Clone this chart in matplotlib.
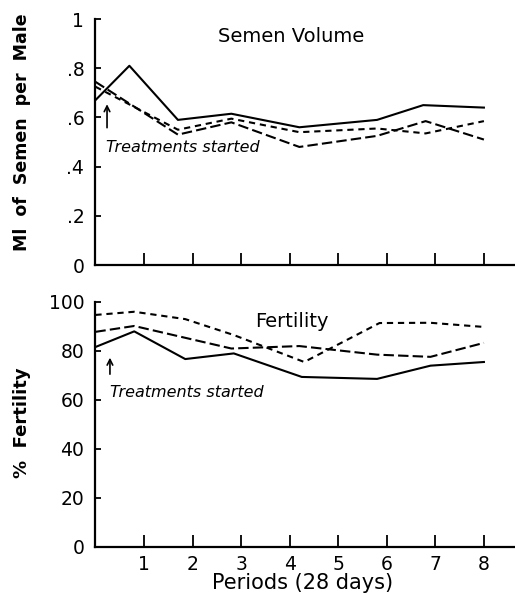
import matplotlib.pyplot as plt

# Semen volume (ml per male)
vol_solid_x = [0, 0.7, 1.7, 2.8, 4.2, 5.8, 6.75, 8]
vol_solid = [0.67, 0.81, 0.59, 0.615, 0.56, 0.59, 0.65, 0.64]
vol_long_x = [0, 1.7, 2.8, 4.2, 5.8, 6.8, 8]
vol_long = [0.745, 0.53, 0.58, 0.48, 0.525, 0.585, 0.51]
vol_short_x = [0, 1.7, 2.8, 4.2, 5.8, 6.8, 8]
vol_short = [0.725, 0.55, 0.595, 0.54, 0.555, 0.535, 0.585]

# Fertility (%)
fert_solid_x = [0, 0.8, 1.85, 2.85, 4.25, 5.8, 6.9, 8]
fert_solid = [81.6, 88, 76.7, 79, 69.4, 68.6, 74, 75.5]
fert_long_x = [0, 0.8, 2.8, 4.2, 5.8, 6.9, 8]
fert_long = [87.8, 90.2, 81, 82, 78.5, 77.6, 83.3]
fert_short_x = [0, 0.8, 1.85, 2.85, 4.3, 5.85, 6.9, 8]
fert_short = [94.7, 96, 93, 86.5, 75.5, 91.4, 91.5, 89.8]

periods = [1, 2, 3, 4, 5, 6, 7, 8]
vol_ticks = [0, 0.2, 0.4, 0.6, 0.8, 1.0]
vol_labels = ['0', '.2', '.4', '.6', '.8', '1']
fert_ticks = [0, 20, 40, 60, 80, 100]

fig = plt.figure(figsize=(5.15, 5.95), dpi=100)
ax1 = fig.add_axes([0.1852, 0.5546, 0.8148, 0.4134])
ax2 = fig.add_axes([0.1852, 0.0807, 0.8148, 0.4118])

lw = 1.5
long_dash = (5, 2)
short_dash = (3, 2.3)

ax1.plot(vol_solid_x, vol_solid, color='black', lw=lw)
ax1.plot(vol_long_x, vol_long, color='black', lw=lw, dashes=long_dash)
ax1.plot(vol_short_x, vol_short, color='black', lw=lw, dashes=short_dash)

ax2.plot(fert_solid_x, fert_solid, color='black', lw=lw)
ax2.plot(fert_long_x, fert_long, color='black', lw=lw, dashes=long_dash)
ax2.plot(fert_short_x, fert_short, color='black', lw=lw, dashes=short_dash)

for ax in (ax1, ax2):
    ax.spines['top'].set_visible(False)
    ax.spines['right'].set_visible(False)
    ax.spines['left'].set_linewidth(1.6)
    ax.spines['bottom'].set_linewidth(1.6)
    ax.set_xlim(0, 8.64)
    ax.set_xticks(periods)
    ax.tick_params(axis='x', direction='in', length=8.5, width=1.3, pad=6,
                   labelsize=13.5)
    ax.tick_params(axis='y', direction='in', length=4.5, width=1.3, pad=8,
                   labelsize=13.5)

ax1.set_ylim(0, 1.0)
ax1.set_yticks(vol_ticks)
ax1.set_yticklabels(vol_labels)
ax1.set_xticklabels([])

ax2.set_ylim(0, 100)
ax2.set_yticks(fert_ticks)
ax2.set_xticklabels([str(p) for p in periods])

ax1.text(4.03, 0.93, 'Semen Volume', ha='center', va='center', fontsize=14)
ax2.text(4.05, 92.2, 'Fertility', ha='center', va='center', fontsize=14)

ax1.text(0.22, 0.478, 'Treatments started', ha='left', va='center',
         fontsize=11.5, style='italic')
ax2.text(0.3, 62.9, 'Treatments started', ha='left', va='center',
         fontsize=11.5, style='italic')
ax1.annotate('', xy=(0.24, 0.665), xytext=(0.24, 0.547),
             arrowprops=dict(arrowstyle='->', color='black', lw=1.2))
ax2.annotate('', xy=(0.3, 78.4), xytext=(0.3, 69.4),
             arrowprops=dict(arrowstyle='->', color='black', lw=1.2))

fig.text(0.042, 1 - 132 / 595, 'Ml  of  Semen  per  Male', rotation=90,
         ha='center', va='center', fontsize=12.5, fontweight='bold')
fig.text(0.042, 1 - 423 / 595, '%  Fertility', rotation=90,
         ha='center', va='center', fontsize=13, fontweight='bold')
fig.text(303 / 515, 1 - 583 / 595, 'Periods (28 days)', ha='center',
         va='center', fontsize=15)

fig.savefig('out.png', dpi=100)
